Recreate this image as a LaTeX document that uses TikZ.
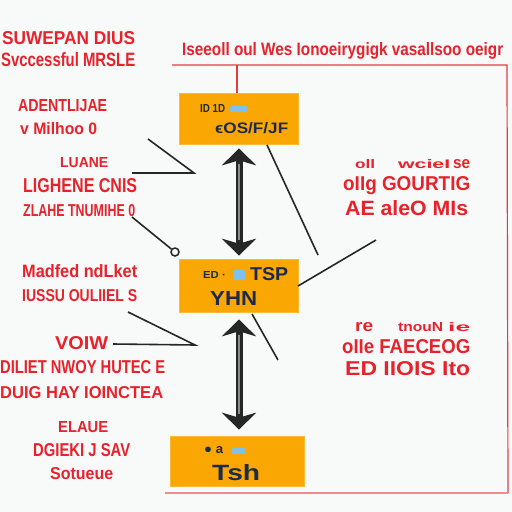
\documentclass[tikz,border=0pt]{standalone}
\usepackage{fontspec}
\setmainfont{Liberation Sans}
\usetikzlibrary{arrows.meta}
\definecolor{bg}{HTML}{F8FAFA}
\definecolor{boxor}{HTML}{FBA703}
\definecolor{txred}{HTML}{E8212B}
\definecolor{navy}{HTML}{1B2B4B}
\definecolor{chip}{HTML}{7FC0F0}
\definecolor{linered}{HTML}{E83A44}
\tikzset{
  redtxt/.style={anchor=west,inner sep=0pt,text=txred,font=\bfseries},
  boxtxt/.style={anchor=west,inner sep=0pt,text=navy,font=\bfseries},
  stagebox/.style={draw=boxor!80!white,fill=boxor,line width=0.6pt,inner sep=0pt},
  conn/.style={draw=black!85,line width=1.6pt},
  frame/.style={draw=linered,line width=1.2pt},
  dblarrow/.style={draw=black!85,line width=7pt,{Stealth[length=17pt,width=34pt,inset=5pt]}-{Stealth[length=17pt,width=34pt,inset=5pt]}},
  dblcore/.style={draw=black!45,line width=2.5pt}
}
\newcommand{\rt}[6]{\node[redtxt] (#1) at (#2,#3) {\resizebox{#4pt}{#5pt}{#6}};}
\newcommand{\bt}[6]{\node[boxtxt] (#1) at (#2,#3) {\resizebox{#4pt}{#5pt}{#6}};}
\begin{document}
\begin{tikzpicture}[x=1pt,y=-1pt]
\fill[bg] (0,0) rectangle (512,512);
\useasboundingbox (0,0) rectangle (512,512);

% frame lines
\coordinate (fa) at (172,65);
\coordinate (fb) at (507,65);
\coordinate (fc) at (508,493);
\coordinate (fd) at (165,493);
\draw[frame] (fa) -- (fb) -- (fc);
\draw[draw=linered!60,line width=2pt] (fc) -- (fd);

% boxes
\node[stagebox,minimum width=119pt,minimum height=51pt] (b1) at (238.5,118.5) {};
\node[stagebox,minimum width=119pt,minimum height=53pt] (b2) at (238.5,285.5) {};
\node[stagebox,minimum width=134pt,minimum height=50pt] (b3) at (237,461) {};

% red connector from top line to box 1
\coordinate (ftop) at (237,65);
\draw[frame] (ftop) -- (b1.north -| ftop);

% box texts
\bt{b1a}{200}{108}{25}{8}{ID 1D}
\fill[chip,rounded corners=1pt] (230,106) rectangle (247,112);
\bt{b1b}{215}{128}{73}{11}{ϵOS/F/JF}
\bt{b2a}{203}{275}{22}{7}{ED ∙}
\fill[chip,rounded corners=1pt] (233,270) rectangle (245,280);
\bt{b2c}{250}{274}{38}{13}{TSP}
\bt{b2b}{210}{298}{47}{14}{YHN}
\bt{b3a}{204}{450}{19}{7}{● a}
\fill[chip,rounded corners=1pt] (232,448) rectangle (245,454);
\bt{b3b}{212}{473}{48}{16}{Tsh}

% double arrows
\draw[dblarrow,shorten <=4pt,shorten >=3pt] ([xshift=0.5pt]b1.south) -- ([xshift=0.5pt]b2.north);
\draw[dblcore,shorten <=20pt,shorten >=19pt] ([xshift=0.5pt]b1.south) -- ([xshift=0.5pt]b2.north);
\draw[dblarrow,shorten <=7pt,shorten >=6pt] ([xshift=0.5pt]b2.south) -- ([xshift=2pt]b3.north);
\draw[dblcore,shorten <=23pt,shorten >=22pt] ([xshift=0.5pt]b2.south) -- ([xshift=2pt]b3.north);

% connector lines
\coordinate (l1a) at (148,139);
\coordinate (l1b) at (194,173);
\coordinate (l1c) at (132,173);
\draw[conn] (l1a) -- (l1b) -- (l1c);
\coordinate (l2a) at (132,217);
\node[draw=black!85,line width=1.5pt,circle,minimum size=8pt,inner sep=0pt] (dot) at (175,252) {};
\draw[conn] (l2a) -- (dot);
\coordinate (l3a) at (267,145);
\coordinate (l3b) at (318,255);
\draw[conn] (l3a) -- (l3b);
\coordinate (l4a) at (298,286);
\coordinate (l4b) at (376,240);
\draw[conn] (l4a) -- (l4b);
\coordinate (l5a) at (128,312);
\coordinate (l5b) at (195,345);
\coordinate (l5c) at (113,344);
\draw[conn] (l5a) -- (l5b) -- (l5c);
\coordinate (l6a) at (252,314);
\coordinate (l6b) at (278,360);
\draw[conn] (l6a) -- (l6b);

% red texts
\rt{t1}{2}{38}{133}{13}{SUWEPAN DIUS}
\rt{t2}{1}{60}{134}{14}{Svccessful MRSLE}
\rt{t3}{182}{51}{321}{13}{Iseeoll oul Wes Ionoeirygigk vasallsoo oeigr}
\rt{t4}{18}{106}{89}{12}{ADENTLIJAE}
\rt{t5}{20}{129}{77}{12}{v Milhoo 0}
\rt{t6}{60}{163}{48}{10}{LUANE}
\rt{t7}{23}{186}{114}{14}{LIGHENE CNIS}
\rt{t8}{23}{211}{112}{12}{ZLAHE TNUMIHE 0}
\rt{t9}{22}{271}{115}{13}{Madfed ndLket}
\rt{t10}{22}{296}{115}{12}{IUSSU OULIIEL S}
\rt{t11}{55}{343}{53}{13}{VOIW}
\rt{t12}{0}{367}{165}{13}{DILIET NWOY HUTEC E}
\rt{t13}{0}{393}{163}{12}{DUIG HAY IOINCTEA}
\rt{t14}{58}{427}{50}{11}{ELAUE}
\rt{t15}{33}{450}{97}{13}{DGIEKI J SAV}
\rt{t16}{50}{474}{63}{12}{Sotueue}
\rt{t17}{355}{164}{20}{9}{oll}
\rt{t18}{398}{164}{52}{9}{wcieI}
\rt{t19}{453}{164}{17}{9}{se}
\rt{t20}{343}{186}{127}{14}{oIIg GOURTIG}
\rt{t21}{345}{208}{123}{15}{AE aleO MIs}
\rt{t22}{355}{327}{18}{9}{re}
\rt{t23}{398}{327}{45}{9}{tnouN}
\rt{t24}{448}{327}{22}{9}{ie}
\rt{t25}{342}{347}{128}{14}{oIIe FAECEOG}
\rt{t26}{345}{369}{125}{14}{ED IIOIS Ito}
\end{tikzpicture}
\end{document}
